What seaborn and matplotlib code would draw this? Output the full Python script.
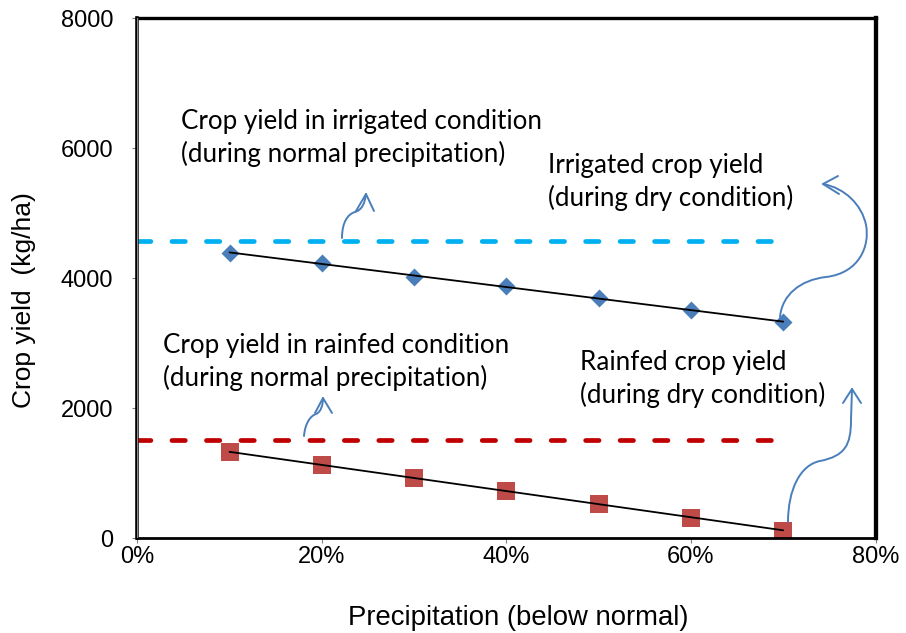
import matplotlib
matplotlib.use("Agg")
import matplotlib.pyplot as plt
from matplotlib.path import Path
from matplotlib.patches import PathPatch
import numpy as np
import pandas as pd
import seaborn as sns

# ---- data -------------------------------------------------------------
precip_below_normal = [0.10, 0.20, 0.30, 0.40, 0.50, 0.60, 0.70]
irrigated_dry = [4390, 4240, 4020, 3880, 3690, 3510, 3330]
rainfed_dry = [1325, 1130, 930, 730, 530, 320, 120]
normal_span = [0.0, 0.70]
irrigated_normal = 4570
rainfed_normal = 1515

x_ticks = [0.0, 0.2, 0.4, 0.6, 0.8]
x_tick_labels = ["0%", "20%", "40%", "60%", "80%"]
y_ticks = [0, 2000, 4000, 6000, 8000]
y_tick_labels = ["0", "2000", "4000", "6000", "8000"]

notes = [
    ["Crop yield in irrigated condition", "(during normal precipitation)"],
    ["Irrigated crop yield", "(during dry condition)"],
    ["Crop yield in rainfed condition", "(during normal precipitation)"],
    ["Rainfed crop yield", "(during dry condition)"],
]

df = pd.DataFrame({
    "precip": precip_below_normal * 2,
    "yield": irrigated_dry + rainfed_dry,
    "series": ["Irrigated"] * 7 + ["Rainfed"] * 7,
})

# ---- style ------------------------------------------------------------
sns.set_theme(style="white")
plt.rcParams["font.family"] = ["Liberation Sans", "DejaVu Sans"]
plt.rcParams["text.color"] = "black"

W, H = 906, 633
fig = plt.figure(figsize=(W / 100, H / 100), dpi=100)
fig.patch.set_facecolor("white")

left_px, right_px, top_px, bottom_px = 137.3, 875.5, 18.3, 538.3
ax = fig.add_axes([left_px / W, 1 - bottom_px / H,
                   (right_px - left_px) / W, (bottom_px - top_px) / H])

BLUE_MARK = "#4A7EBB"
RED_MARK = "#BE4B48"
BLUE_DASH = "#00B0F0"
RED_DASH = "#C00000"

# normal-precipitation reference levels (dashed)
dash_lw = 3.4
for level, col in [(irrigated_normal, BLUE_DASH), (rainfed_normal, RED_DASH)]:
    sns.lineplot(x=normal_span, y=[level, level], ax=ax, color=col,
                 lw=dash_lw, dashes=False, zorder=2)
for ln in ax.lines:
    ln.set_dashes((2.83, 4.47))
    ln.set_dash_capstyle("round")

# linear trend lines through the dry-condition yields
for s in ["Irrigated", "Rainfed"]:
    sub = df[df["series"] == s]
    sns.regplot(data=sub, x="precip", y="yield", ax=ax, scatter=False,
                ci=None, truncate=True, color="black",
                line_kws={"lw": 1.3, "zorder": 4})

# dry-condition yields
sns.scatterplot(data=df[df["series"] == "Irrigated"], x="precip", y="yield",
                ax=ax, marker="D", s=84, color=BLUE_MARK, linewidth=0,
                zorder=3, legend=False)
sns.scatterplot(data=df[df["series"] == "Rainfed"], x="precip", y="yield",
                ax=ax, marker="s", s=185, color=RED_MARK, linewidth=0,
                zorder=3, legend=False)

ax.set_xlim(0, 0.8)
ax.set_ylim(0, 8000)
ax.set_xticks(x_ticks)
ax.set_xticklabels(x_tick_labels)
ax.set_yticks(y_ticks)
ax.set_yticklabels(y_tick_labels)
ax.set_xlabel("")
ax.set_ylabel("")
ax.tick_params(axis="both", which="major", direction="out", length=3.8,
               width=0.8, color="#808080", labelsize=17, labelcolor="black")
ax.tick_params(axis="y", pad=13.5, left=True)
ax.tick_params(axis="x", pad=2, bottom=True)
ax.grid(False)

for side, lw in [("top", 2.4), ("right", 3.1), ("bottom", 2.0), ("left", 2.6)]:
    ax.spines[side].set_visible(True)
    ax.spines[side].set_color("black")
    ax.spines[side].set_linewidth(lw)
    ax.spines[side].set_zorder(6)
ax.axvline(0, color="#8C8C8C", lw=1.0, zorder=7)

# axis titles
fig.text(24 / W, 1 - 300 / H, "Crop yield  (kg/ha)", rotation=90,
         ha="center", va="center", fontsize=19, color="black")
fig.text(518 / W, 1 - 618 / H, "Precipitation (below normal)",
         ha="center", va="center", fontsize=19.8, color="black")

# annotation text blocks (figure pixel coordinates, baseline of first line)
note_pos = [(181, 129), (548, 173), (163, 353), (580, 370)]
line_gap = 33
for lines, (px, py) in zip(notes, note_pos):
    for i, t in enumerate(lines):
        fig.text(px / W, 1 - (py + i * line_gap) / H, t, ha="left",
                 va="baseline", fontsize=18.7, family=["Lato", "DejaVu Sans"],
                 color="black")

# curved callout arrows
ARROW = "#4A7EBB"


def px2fig(pts):
    return [(x / W, 1 - y / H) for x, y in pts]


def curve(pts, codes):
    p = Path(px2fig(pts), codes)
    fig.patches.append(PathPatch(p, transform=fig.transFigure, fill=False,
                                 edgecolor=ARROW, lw=1.4, capstyle="round",
                                 joinstyle="round", zorder=8))


C4, M, L = Path.CURVE4, Path.MOVETO, Path.LINETO

# irrigated, normal precipitation
curve([(342, 238), (342, 222), (348, 214), (355, 212),
       (362, 210), (365, 203), (366, 194)], [M, C4, C4, C4, C4, C4, C4])
curve([(356, 211), (366, 194), (374, 211)], [M, L, L])

# rainfed, normal precipitation
curve([(304, 436), (305, 424), (310, 416), (316, 414),
       (321, 412), (323, 405), (323, 398)], [M, C4, C4, C4, C4, C4, C4])
curve([(315, 413), (323, 398), (332, 413)], [M, L, L])

# irrigated, dry condition
curve([(780, 317), (782, 295), (800, 280), (826, 277),
       (860, 273), (870, 245), (866, 225),
       (862, 205), (845, 188), (823, 184)],
      [M, C4, C4, C4, C4, C4, C4, C4, C4, C4])
curve([(838, 176), (823, 184), (839, 194)], [M, L, L])

# rainfed, dry condition
curve([(788, 522), (788, 490), (800, 465), (820, 461),
       (845, 456), (851, 445), (851, 420), (852, 389)],
      [M, C4, C4, C4, C4, C4, C4, L])
curve([(843, 403), (852, 389), (861, 403)], [M, L, L])

fig.savefig("out.png", dpi=100, facecolor="white")
